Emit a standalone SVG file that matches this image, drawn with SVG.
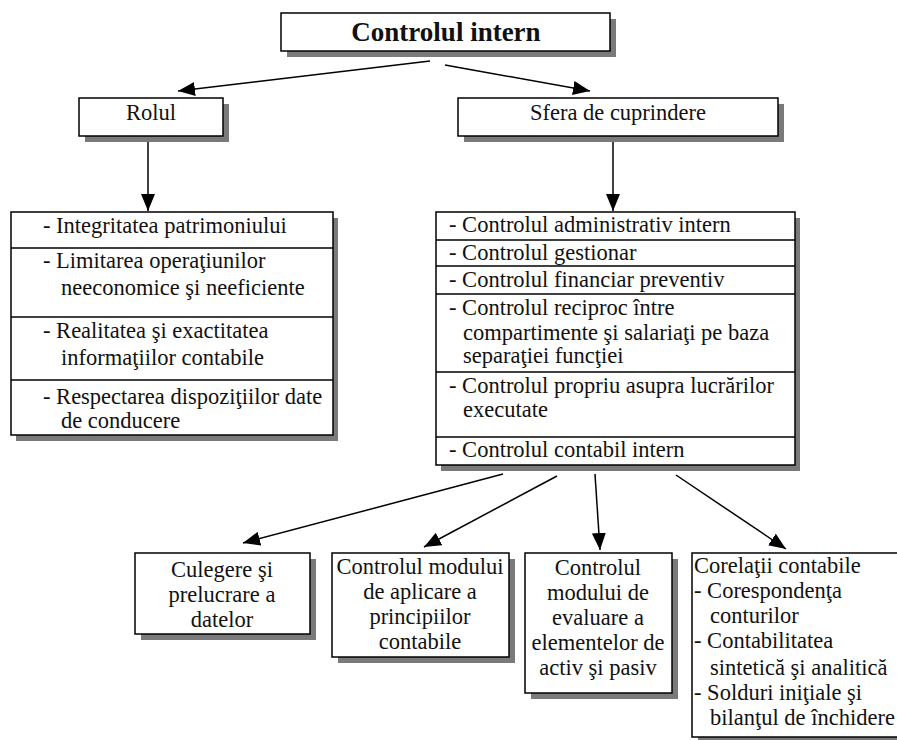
<svg xmlns="http://www.w3.org/2000/svg" width="897" height="740" viewBox="0 0 897 740">
<defs>
<style>
.sh{fill:#7a7a7a;stroke:none}
.bx{fill:#fff;stroke:#000;stroke-width:1.5}
.sep{stroke:#000;stroke-width:1.5}
text{font-family:"Liberation Serif","Times New Roman",serif;font-size:22.5px;fill:#111}
.c{text-anchor:middle}
.t{font-weight:bold;font-size:27px}
.ln{stroke:#000;stroke-width:1.5;fill:none;marker-end:url(#ah)}
</style>
<marker id="ah" markerUnits="userSpaceOnUse" markerWidth="18" markerHeight="14" refX="17" refY="7" orient="auto">
<path d="M0,0 L17,7 L0,14 Z" fill="#000"/>
</marker>
</defs>
<rect width="897" height="740" fill="#fff"/>

<g id="connectors">
<line class="ln" x1="430" y1="61" x2="178" y2="91"/>
<line class="ln" x1="445" y1="65" x2="590" y2="91"/>
<line class="ln" x1="148" y1="136" x2="148" y2="211"/>
<line class="ln" x1="613" y1="136" x2="613" y2="211"/>
<line class="ln" x1="503" y1="474" x2="243" y2="543"/>
<line class="ln" x1="557" y1="476" x2="424" y2="547"/>
<line class="ln" x1="595" y1="474" x2="600" y2="550"/>
<line class="ln" x1="676" y1="475" x2="786" y2="549"/>
</g>

<g id="n-controlul-intern">
<rect class="sh" x="287" y="19" width="329" height="38"/>
<rect class="bx" x="281" y="13" width="329" height="38"/>
<text class="c t" x="446" y="41">Controlul intern</text>
</g>

<g id="n-rolul">
<rect class="sh" x="85" y="104" width="144" height="38"/>
<rect class="bx" x="79" y="98" width="144" height="38"/>
<text class="c" x="151" y="120">Rolul</text>
</g>

<g id="n-sfera">
<rect class="sh" x="464" y="104" width="320" height="38"/>
<rect class="bx" x="458" y="98" width="320" height="38"/>
<text class="c" x="618" y="120">Sfera de cuprindere</text>
</g>

<g id="n-rol-list">
<rect class="sh" x="16" y="218" width="322" height="223"/>
<rect class="bx" x="11" y="212" width="322" height="223"/>
<line class="sep" x1="11" y1="248" x2="333" y2="248"/>
<line class="sep" x1="11" y1="317" x2="333" y2="317"/>
<line class="sep" x1="11" y1="380" x2="333" y2="380"/>
<text x="43" y="233">- Integritatea patrimoniului</text>
<text x="43" y="268">- Limitarea operaţiunilor</text>
<text x="61" y="295">neeconomice şi neeficiente</text>
<text x="43" y="338">- Realitatea şi exactitatea</text>
<text x="61" y="365">informaţiilor contabile</text>
<text x="43" y="404">- Respectarea dispoziţiilor date</text>
<text x="61" y="428">de conducere</text>
</g>

<g id="n-sfera-list">
<rect class="sh" x="441" y="218" width="359" height="253"/>
<rect class="bx" x="436" y="212" width="359" height="253"/>
<line class="sep" x1="436" y1="240" x2="795" y2="240"/>
<line class="sep" x1="436" y1="266" x2="795" y2="266"/>
<line class="sep" x1="436" y1="294" x2="795" y2="294"/>
<line class="sep" x1="436" y1="372" x2="795" y2="372"/>
<line class="sep" x1="436" y1="437" x2="795" y2="437"/>
<text x="449" y="232">- Controlul administrativ intern</text>
<text x="449" y="260">- Controlul gestionar</text>
<text x="449" y="287">- Controlul financiar preventiv</text>
<text x="449" y="315">- Controlul reciproc între</text>
<text x="463" y="340">compartimente şi salariaţi pe baza</text>
<text x="463" y="363">separaţiei funcţiei</text>
<text x="449" y="393">- Controlul propriu asupra lucrărilor</text>
<text x="463" y="417">executate</text>
<text x="449" y="457">- Controlul contabil intern</text>
</g>

<g id="n-culegere">
<rect class="sh" x="141" y="559" width="175" height="81"/>
<rect class="bx" x="135" y="553" width="175" height="81"/>
<text class="c" x="222" y="577">Culegere şi</text>
<text class="c" x="222" y="602">prelucrare a</text>
<text class="c" x="222" y="627">datelor</text>
</g>

<g id="n-principii">
<rect class="sh" x="338" y="559" width="177" height="104"/>
<rect class="bx" x="332" y="553" width="177" height="104"/>
<text class="c" x="420" y="574">Controlul modului</text>
<text class="c" x="420" y="599">de aplicare a</text>
<text class="c" x="420" y="624">principiilor</text>
<text class="c" x="420" y="649">contabile</text>
</g>

<g id="n-evaluare">
<rect class="sh" x="531" y="559" width="147" height="140"/>
<rect class="bx" x="525" y="553" width="147" height="140"/>
<text class="c" x="598" y="575">Controlul</text>
<text class="c" x="598" y="600">modului de</text>
<text class="c" x="598" y="625">evaluare a</text>
<text class="c" x="598" y="650">elementelor de</text>
<text class="c" x="598" y="675">activ şi pasiv</text>
</g>

<g id="n-corelatii">
<rect class="sh" x="698" y="559" width="215" height="184"/>
<rect class="bx" x="692" y="553" width="215" height="184"/>
<text x="694" y="573">Corelaţii contabile</text>
<text x="694" y="598">- Corespondenţa</text>
<text x="710" y="623">conturilor</text>
<text x="694" y="648">- Contabilitatea</text>
<text x="710" y="675">sintetică şi analitică</text>
<text x="694" y="700">- Solduri iniţiale şi</text>
<text x="710" y="725">bilanţul de închidere</text>
</g>
</svg>
